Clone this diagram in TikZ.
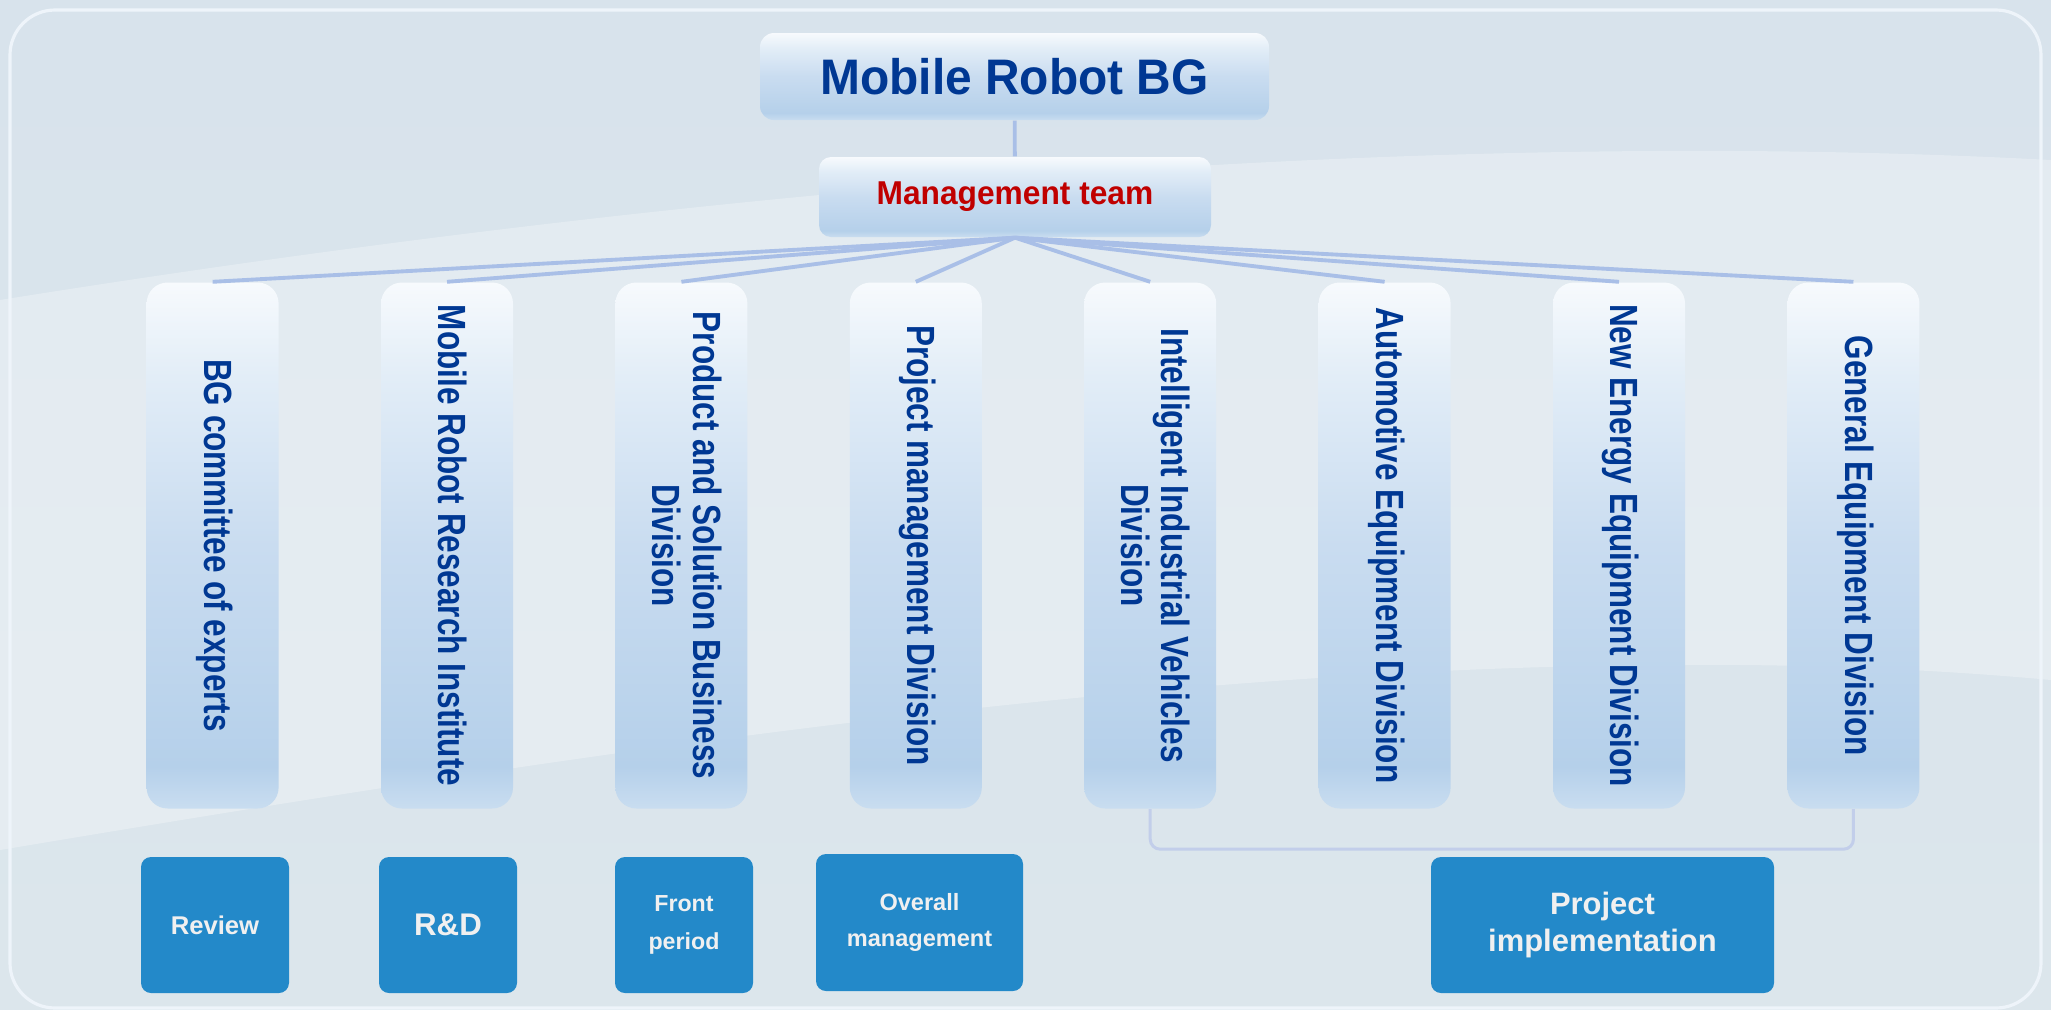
\documentclass[tikz,border=0pt]{standalone}
\usepackage{fontspec}
\setmainfont{Liberation Sans}
\newfontfamily\headfont[FakeStretch=0.96]{Liberation Sans}
\newfontfamily\sidefont[FakeStretch=0.80]{Liberation Sans}
\usetikzlibrary{positioning}

\definecolor{deepblue}{HTML}{003893}
\definecolor{alertred}{HTML}{C00000}
\definecolor{taskblue}{HTML}{2389C9}
\definecolor{linkblue}{HTML}{A9BFE7}
\definecolor{bracketblue}{HTML}{C2CEEA}
\definecolor{frameline}{HTML}{EEF4FA}
\definecolor{bgtop}{HTML}{D8E3EC}
\definecolor{bgmid}{HTML}{EEF2F5}
\definecolor{bgbottom}{HTML}{DCE6EC}
\definecolor{panelrim}{HTML}{C9DDF0}
\definecolor{paneldeep}{HTML}{B5D0EA}
\definecolor{panelmid}{HTML}{C9DCF0}
\definecolor{panelsoft}{HTML}{E2EDF7}
\definecolor{paneltop}{HTML}{F7FAFD}

\pgfdeclareverticalshading{panel}{100bp}{color(0bp)=(panelrim); color(25bp)=(panelrim); color(29bp)=(paneldeep); color(50bp)=(panelmid); color(66bp)=(panelsoft); color(75bp)=(paneltop); color(100bp)=(paneltop)}

\newcommand{\sidetext}[1]{\rotatebox{-90}{\begin{tabular}{@{}c@{}}#1\end{tabular}}}

\begin{document}
\begin{tikzpicture}[
    node distance=1.01cm,
    panel/.style={rectangle, shade, shading=panel, text=deepblue, inner sep=0pt},
    boss/.style={panel, minimum width=5.09cm, minimum height=0.87cm, rounded corners=0.14cm, font=\headfont\bfseries\fontsize{14.2pt}{17pt}\selectfont},
    team/.style={panel, minimum width=3.92cm, minimum height=0.80cm, rounded corners=0.12cm, text=alertred, font=\headfont\bfseries\fontsize{9.4pt}{11pt}\selectfont},
    division/.style={panel, minimum width=1.32cm, minimum height=5.26cm, rounded corners=0.21cm, font=\sidefont\bfseries\fontsize{11.2pt}{11.1pt}\selectfont},
    task/.style={rectangle, fill=taskblue, rounded corners=0.1cm, minimum height=1.36cm, text=white!94!black, align=center, inner sep=0pt},
    link/.style={draw=linkblue, line width=1.1pt},
    bracket/.style={draw=bracketblue, line width=0.85pt, rounded corners=0.1cm}
]

\shade [top color=bgtop, middle color=bgmid, bottom color=bgbottom] (0,0) rectangle (20.51,-10.10);
\fill [white, opacity=0.28] (0,-3.0) .. controls (5,-2.2) and (13,-1.2) .. (20.51,-1.6) -- (20.51,-6.8) .. controls (14,-6.2) and (6,-7.5) .. (0,-8.5) -- cycle;
\draw [frameline, line width=0.9pt, rounded corners=0.45cm] (0.10,-0.10) rectangle (20.41,-10.08);

\node (boss) [boss] at (10.145,-0.765) {Mobile Robot BG};
\node (team) [team] at (10.15,-1.97) {Management team};

\node (experts) [division] at (2.126,-5.455) {\sidetext{BG committee of experts}};
\node (institute) [division, right=of experts] {\sidetext{Mobile Robot Research Institute}};
\node (product) [division, right=of institute] {\sidetext{Product and Solution Business\\Division}};
\node (pmo) [division, right=of product] {\sidetext{Project management Division}};
\node (vehicles) [division, right=of pmo] {\sidetext{Intelligent Industrial Vehicles\\Division}};
\node (auto) [division, right=of vehicles] {\sidetext{Automotive Equipment Division}};
\node (energy) [division, right=of auto] {\sidetext{New Energy Equipment Division}};
\node (general) [division, right=of energy] {\sidetext{General Equipment Division}};

\node (review) [task, minimum width=1.48cm, font=\bfseries\fontsize{7.3pt}{9pt}\selectfont] at (2.15,-9.25) {Review};
\node (research) [task, minimum width=1.38cm, font=\bfseries\fontsize{8.9pt}{10pt}\selectfont] at (4.48,-9.25) {R\&D};
\node (front) [task, minimum width=1.38cm, font=\bfseries\fontsize{6.6pt}{10.8pt}\selectfont] at (6.84,-9.25) {Front\\period};
\node (overall) [task, minimum width=2.07cm, minimum height=1.37cm, font=\bfseries\fontsize{6.7pt}{10pt}\selectfont] at (9.195,-9.225) {Overall\\management};
\node (delivery) [task, minimum width=3.43cm, font=\bfseries\fontsize{8.8pt}{10.5pt}\selectfont] at (16.025,-9.25) {Project\\implementation};

\draw [link] (boss) -- (team);
\draw [link] (team.south) -- (experts.north);
\draw [link] (team.south) -- (institute.north);
\draw [link] (team.south) -- (product.north);
\draw [link] (team.south) -- (pmo.north);
\draw [link] (team.south) -- (vehicles.north);
\draw [link] (team.south) -- (auto.north);
\draw [link] (team.south) -- (energy.north);
\draw [link] (team.south) -- (general.north);
\draw [bracket] (vehicles.south) -- ++(0,-0.40) -| (general.south);

\end{tikzpicture}
\end{document}
